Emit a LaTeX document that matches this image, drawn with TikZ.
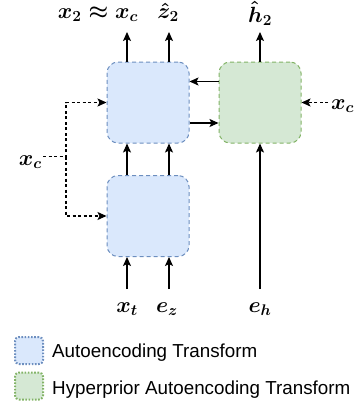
\RequirePackage{fix-cm}
\documentclass[tikz,border=0pt]{standalone}
\usepackage{fontspec}
\newfontfamily\legendfont{Liberation Sans}
\usetikzlibrary{arrows.meta, calc}
\definecolor{aefill}{HTML}{DAE8FC}
\definecolor{aedraw}{HTML}{6C8EBF}
\definecolor{hpfill}{HTML}{D5E8D4}
\definecolor{hpdraw}{HTML}{82B366}
\tikzset{
  aebox/.style={draw=aedraw, fill=aefill, dash pattern=on 4pt off 3pt, line width=1pt,
    rounded corners=11pt, minimum width=82pt, minimum height=81pt, inner sep=0pt},
  hpbox/.style={aebox, draw=hpdraw, fill=hpfill},
  lbl/.style={font=\fontsize{22}{26}\selectfont\boldmath, inner sep=0pt,
    text height=14pt, text depth=5pt, outer ysep=9pt},
  arr/.style={-{Stealth[length=9pt, width=8pt, inset=2pt]}, line width=1.2pt},
  darr/.style={arr, dash pattern=on 3pt off 2.5pt},
  legae/.style={draw=aedraw, fill=aefill, dash pattern=on 1.6pt off 1.6pt, line width=2pt,
    rounded corners=4pt, minimum width=28pt, minimum height=27pt, inner sep=0pt},
  leghp/.style={legae, draw=hpdraw, fill=hpfill},
  legtxt/.style={font=\legendfont\fontsize{18.8}{22}\selectfont, inner sep=0pt}
}
\begin{document}
\begin{tikzpicture}[x=1pt, y=-1pt]
    \useasboundingbox (0,0) rectangle (357,402);
    % Transforms
    \node[aebox] (ae2) at (148,102.5) {};
    \node[aebox] (ae1) at (148,216) {};
    \node[hpbox] (hp) at (260,102.5) {};
    % Outputs
    \node[lbl, anchor=base] (x2) at (98,18) {$x_2 \approx x_c$};
    \node[lbl, anchor=base] (z2) at (168,18) {$\hat{z}_2$};
    \node[lbl, anchor=base] (h2) at (260,22) {$\hat{h}_2$};
    % Inputs
    \node[lbl, anchor=base] (xt) at (127,312) {$x_t$};
    \node[lbl, anchor=base] (ez) at (167,312) {$e_z$};
    \node[lbl, anchor=base] (eh) at (260,312) {$e_h$};
    \node[lbl, anchor=base east, outer ysep=0pt] (xcl) at (42,165) {$x_c$};
    \node[lbl, anchor=base west, outer ysep=0pt] (xcr) at (331,109) {$x_c$};
    % Arrows
    \draw[arr] ([xshift=-21pt]ae1.south |- xt.north) -- ([xshift=-21pt]ae1.south);
    \draw[arr] ([xshift=21pt]ae1.south |- ez.north) -- ([xshift=21pt]ae1.south);
    \draw[arr] ([xshift=-21pt]ae1.north) -- ([xshift=-21pt]ae2.south);
    \draw[arr] ([xshift=21pt]ae1.north) -- ([xshift=21pt]ae2.south);
    \draw[arr] ([xshift=-21pt]ae2.north) -- ([xshift=-21pt]ae2.north |- x2.south);
    \draw[arr] ([xshift=21pt]ae2.north) -- ([xshift=21pt]ae2.north |- x2.south);
    \draw[arr] ([yshift=21pt]hp.west) -- ([yshift=21pt]ae2.east);
    \draw[arr] ([yshift=-20.5pt]ae2.east) -- ([yshift=-20.5pt]hp.west);
    \draw[arr] (eh.north) -- (hp.south);
    \draw[arr] (hp.north) -- (hp.north |- x2.south);
    % Condition
    \coordinate (split) at ([xshift=24pt, yshift=4pt]xcl.east);
    \draw[darr] ([xshift=1pt, yshift=4pt]xcl.east) -- (split) |- (ae2.west);
    \draw[darr] (split) |- (ae1.west);
    \draw[darr] ([xshift=-3pt, yshift=2pt]xcr.west) -- (hp.east);
    % Legend
    \node[legae] (lgae) at (29,350.5) {};
    \node[legtxt, anchor=base west] (lgaetxt) at (52,357) {Autoencoding Transform};
    \node[leghp] (lghp) at (29,386) {};
    \node[legtxt, anchor=base west] (lghptxt) at (52,394) {Hyperprior Autoencoding Transform};
\end{tikzpicture}
\end{document}
